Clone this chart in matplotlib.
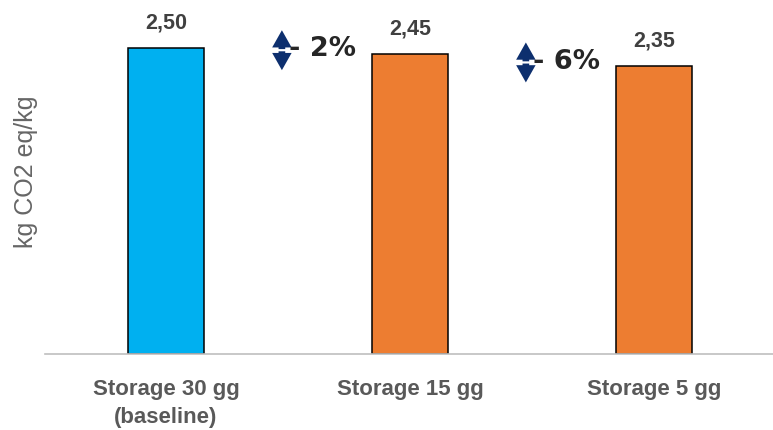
import matplotlib
matplotlib.use("Agg")
import matplotlib.pyplot as plt

# dati
categories = ["Storage 30 gg\n(baseline)", "Storage 15 gg", "Storage 5 gg"]
values = [2.50, 2.45, 2.35]
colors = ["#00B0F0", "#ED7D31", "#ED7D31"]
deltas = ["- 2%", "- 6%"]

plt.rcParams['font.family'] = ['Liberation Sans', 'DejaVu Sans']

fig = plt.figure(figsize=(7.73, 4.31), dpi=100)
ax = fig.add_axes([45 / 773, 76 / 431, 728 / 773, 343 / 431])

x = list(range(len(values)))
ax.bar(x, values, width=0.315, color=colors, edgecolor="black", linewidth=1.1, zorder=2)

# etichette valori
for xi, v in zip(x, values):
    ax.text(xi, v + 0.165, f"{v:.2f}".replace(".", ","), ha="center", va="baseline",
            fontsize=15.5, fontweight="bold", color="#404040")

# frecce differenza
navy = "#0D2F6E"
arrow_style = "simple,head_length=0.62,head_width=0.7,tail_width=0.24"
for i, d in enumerate(deltas):
    xi = x[i + 1]
    v = values[i + 1]
    ax_x = xi - 0.525
    mid = v + 0.03
    for end in (mid + 0.163, mid - 0.163):
        ax.annotate("", xy=(ax_x, end), xytext=(ax_x, mid),
                    arrowprops=dict(arrowstyle=arrow_style, mutation_scale=20,
                                    color=navy, lw=0, shrinkA=0.8, shrinkB=0))
    ax.text(ax_x + 0.029, mid + 0.015, d, ha="left", va="center",
            fontsize=19.5, fontweight="bold", color="#262626", family="DejaVu Sans")

ax.set_xlim(-0.496, 2.488)
ax.set_ylim(0, 2.8)
ax.set_xticks(x)
ax.set_xticklabels(categories, fontsize=16, fontweight="bold", color="#595959",
                   linespacing=1.45)
ax.tick_params(axis="x", length=0, pad=17)
ax.set_yticks([])
ax.set_ylabel("kg CO2 eq/kg", fontsize=18, color="#666666")
ax.yaxis.set_label_coords(-0.01, 0.534)

for s in ["top", "right", "left"]:
    ax.spines[s].set_visible(False)
ax.spines["bottom"].set_color("#BFBFBF")
ax.spines["bottom"].set_linewidth(1.2)

fig.savefig("out.png", dpi=100)
